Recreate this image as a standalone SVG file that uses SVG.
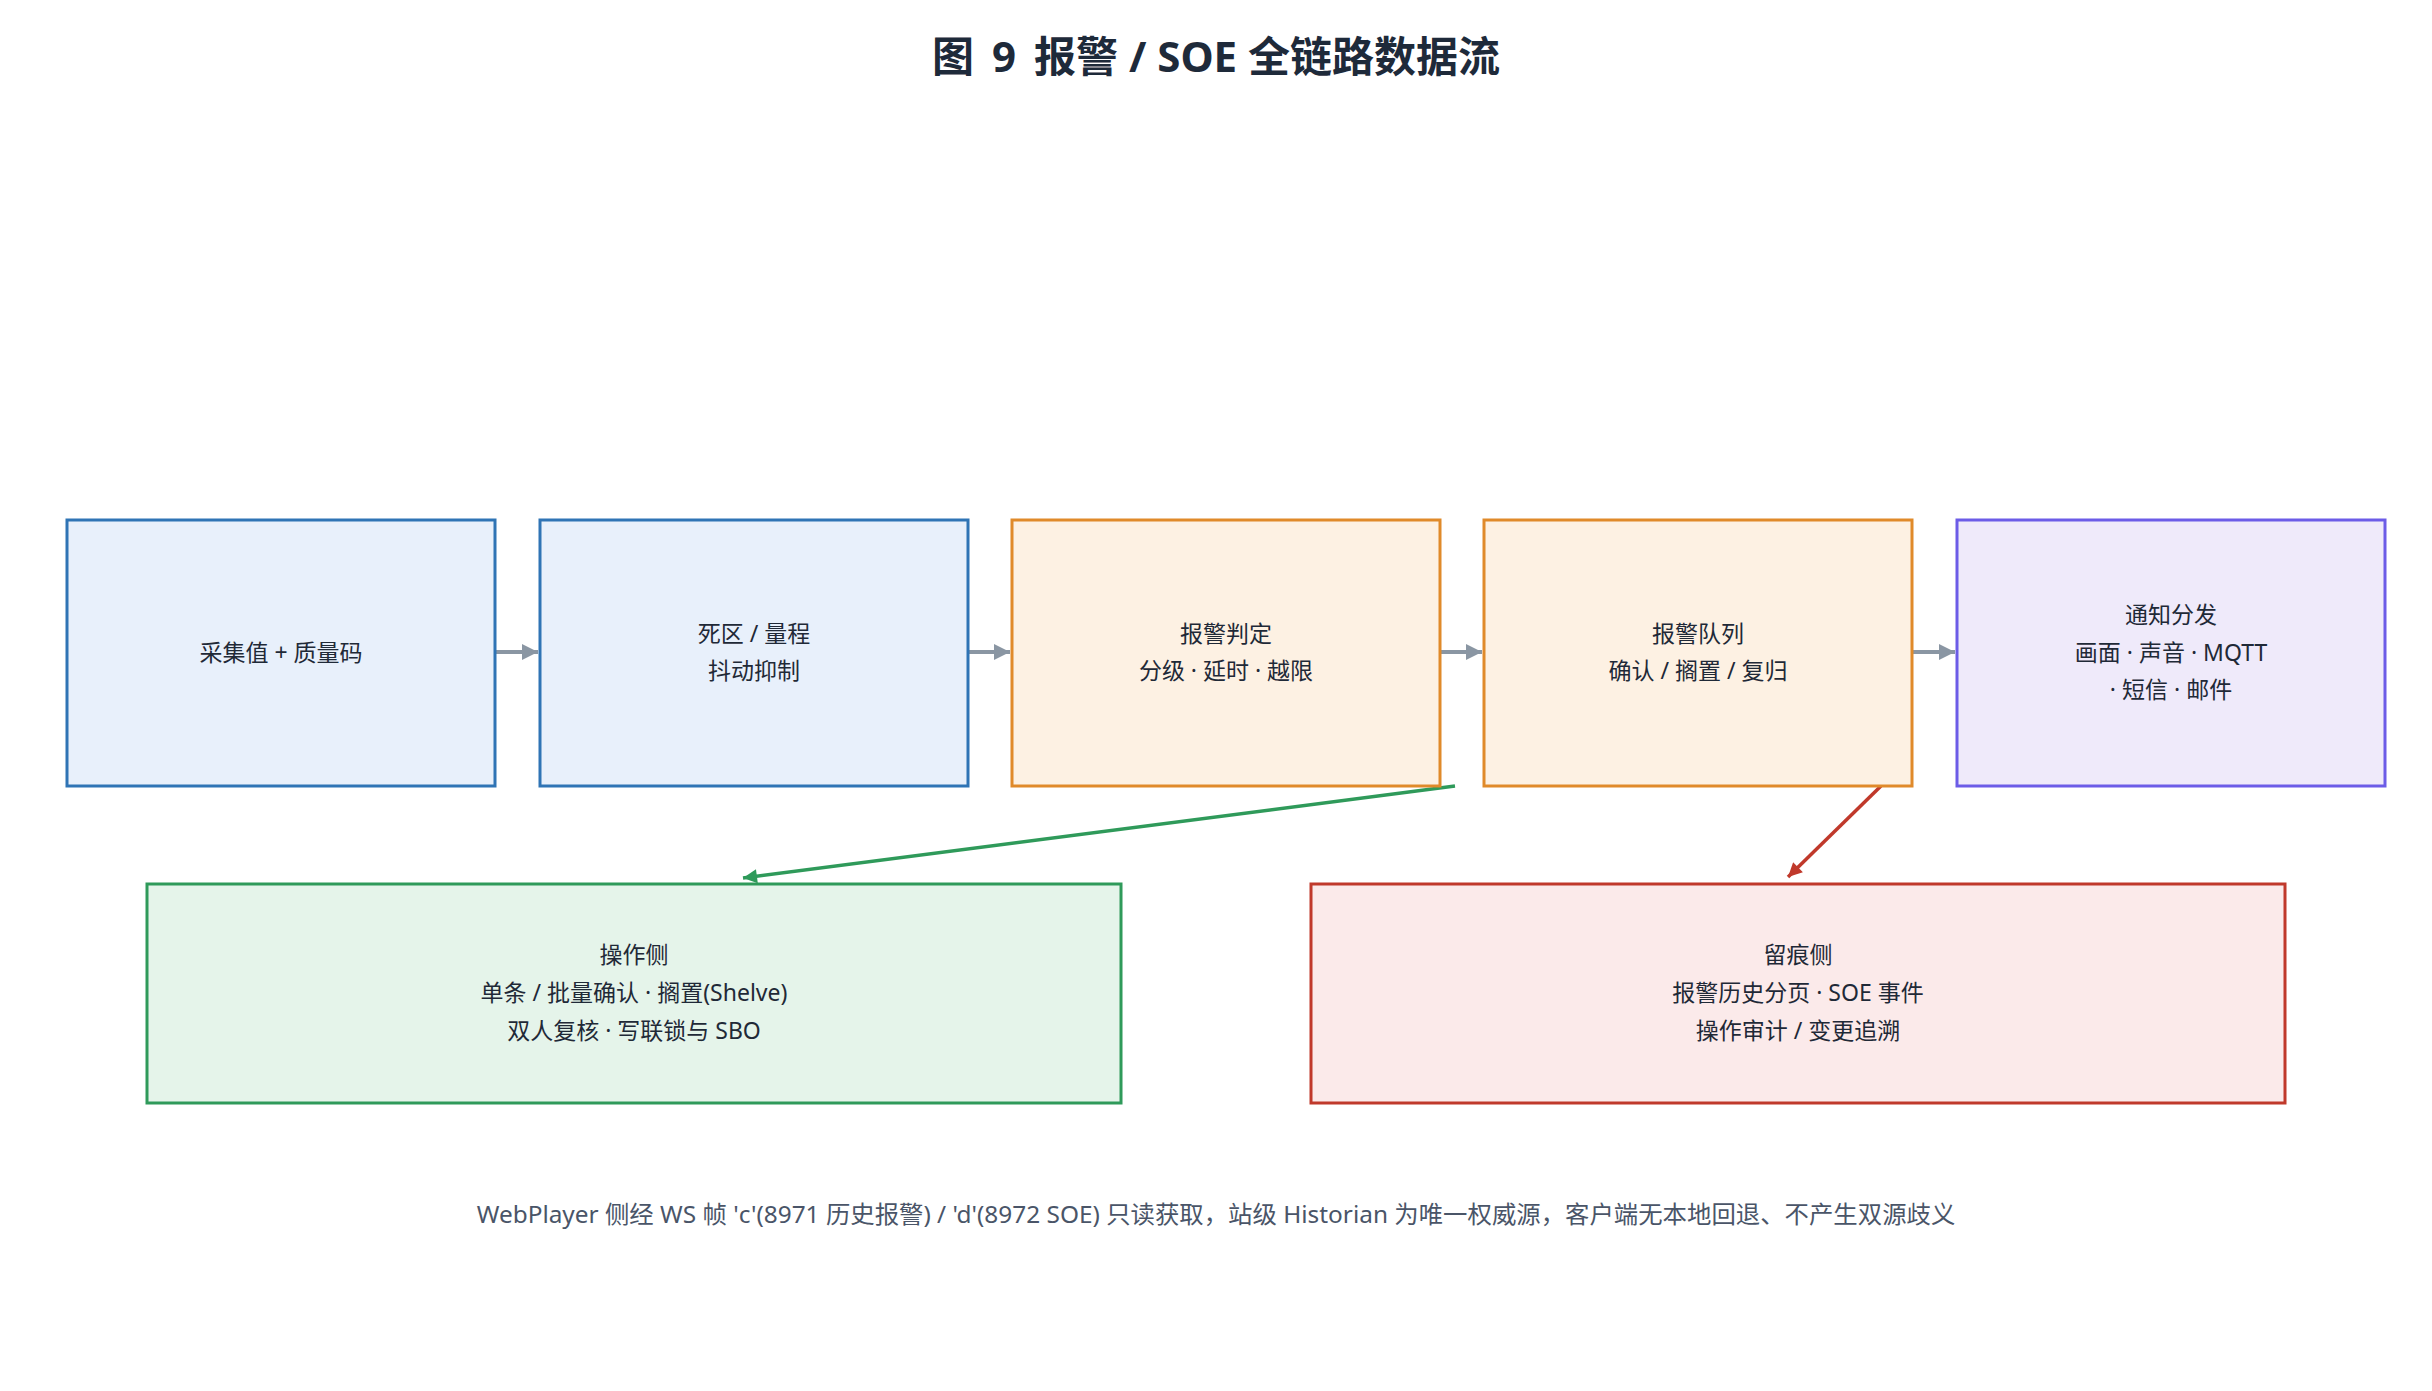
<svg xmlns="http://www.w3.org/2000/svg" width="2432" height="1391" viewBox="0 0 2432 1391">
<style>
text{font-family:"Noto Sans","Noto Sans CJK SC",sans-serif;}
.title{font-size:42px;font-weight:bold;fill:#1e2a3a;}
.lbl{font-size:23px;fill:#1f2937;}
.foot{font-size:24.4px;fill:#4a5568;}
.blue{fill:#e8f0fb;stroke:#2f74b5;stroke-width:3;}
.orange{fill:#fdf1e3;stroke:#e08a2a;stroke-width:3;}
.purple{fill:#efeafa;stroke:#6c5ce7;stroke-width:3;}
.green{fill:#e5f4ea;stroke:#2f9a5a;stroke-width:3;}
.red{fill:#fbeaea;stroke:#c0392b;stroke-width:3;}
.flow{stroke:#8a96a3;stroke-width:4;fill:none;}
.gl{stroke:#2f9a5a;stroke-width:3.5;fill:none;}
.rl{stroke:#c0392b;stroke-width:3.5;fill:none;}
</style>
<defs>
<marker id="ag" viewBox="0 0 10 10" refX="10" refY="5" markerWidth="4" markerHeight="4" markerUnits="strokeWidth" orient="auto"><path d="M0,0 L10,5 L0,10 z" fill="#8a96a3"/></marker>
<marker id="agr" viewBox="0 0 10 10" refX="10" refY="5" markerWidth="4.5" markerHeight="4" markerUnits="strokeWidth" orient="auto"><path d="M0,0 L10,5 L0,10 z" fill="#2f9a5a"/></marker>
<marker id="ard" viewBox="0 0 10 10" refX="10" refY="5" markerWidth="4.5" markerHeight="4" markerUnits="strokeWidth" orient="auto"><path d="M0,0 L10,5 L0,10 z" fill="#c0392b"/></marker>
</defs>
<rect width="2432" height="1391" fill="#ffffff"/>
<text class="title" x="1216" y="72" text-anchor="middle">图<tspan dx="18">9</tspan><tspan dx="18">报警 / SOE 全链路数据流</tspan></text>

<g id="connectors">
<line class="flow" x1="495" y1="652" x2="538" y2="652" marker-end="url(#ag)"/>
<line class="flow" x1="968" y1="652" x2="1010" y2="652" marker-end="url(#ag)"/>
<line class="flow" x1="1440" y1="652" x2="1482" y2="652" marker-end="url(#ag)"/>
<line class="flow" x1="1912" y1="652" x2="1955" y2="652" marker-end="url(#ag)"/>
<line class="gl" x1="1455" y1="786" x2="743" y2="878" marker-end="url(#agr)"/>
<line class="rl" x1="1881" y1="786" x2="1788" y2="877" marker-end="url(#ard)"/>
</g>

<g id="n1"><rect class="blue" x="67" y="520" width="428" height="266"/>
<text class="lbl" x="281" y="661" text-anchor="middle">采集值 + 质量码</text></g>
<g id="n2"><rect class="blue" x="540" y="520" width="428" height="266"/>
<text class="lbl" text-anchor="middle"><tspan x="754" y="642">死区 / 量程</tspan><tspan x="754" y="679">抖动抑制</tspan></text></g>
<g id="n3"><rect class="orange" x="1012" y="520" width="428" height="266"/>
<text class="lbl" text-anchor="middle"><tspan x="1226" y="642">报警判定</tspan><tspan x="1226" y="679">分级 · 延时 · 越限</tspan></text></g>
<g id="n4"><rect class="orange" x="1484" y="520" width="428" height="266"/>
<text class="lbl" text-anchor="middle"><tspan x="1698" y="642">报警队列</tspan><tspan x="1698" y="679">确认 / 搁置 / 复归</tspan></text></g>
<g id="n5"><rect class="purple" x="1957" y="520" width="428" height="266"/>
<text class="lbl" text-anchor="middle"><tspan x="2171" y="623">通知分发</tspan><tspan x="2171" y="661">画面 · 声音 · MQTT</tspan><tspan x="2171" y="698">· 短信 · 邮件</tspan></text></g>
<g id="n6"><rect class="green" x="147" y="884" width="974" height="219"/>
<text class="lbl" text-anchor="middle"><tspan x="634" y="963">操作侧</tspan><tspan x="634" y="1001">单条 / 批量确认 · 搁置(Shelve)</tspan><tspan x="634" y="1039">双人复核 · 写联锁与 SBO</tspan></text></g>
<g id="n7"><rect class="red" x="1311" y="884" width="974" height="219"/>
<text class="lbl" text-anchor="middle"><tspan x="1798" y="963">留痕侧</tspan><tspan x="1798" y="1001">报警历史分页 · SOE 事件</tspan><tspan x="1798" y="1039">操作审计 / 变更追溯</tspan></text></g>

<text class="foot" x="1216" y="1223" text-anchor="middle">WebPlayer 侧经 WS 帧 'c'(8971 历史报警) / 'd'(8972 SOE) 只读获取，站级 Historian 为唯一权威源，客户端无本地回退、不产生双源歧义</text>
</svg>
